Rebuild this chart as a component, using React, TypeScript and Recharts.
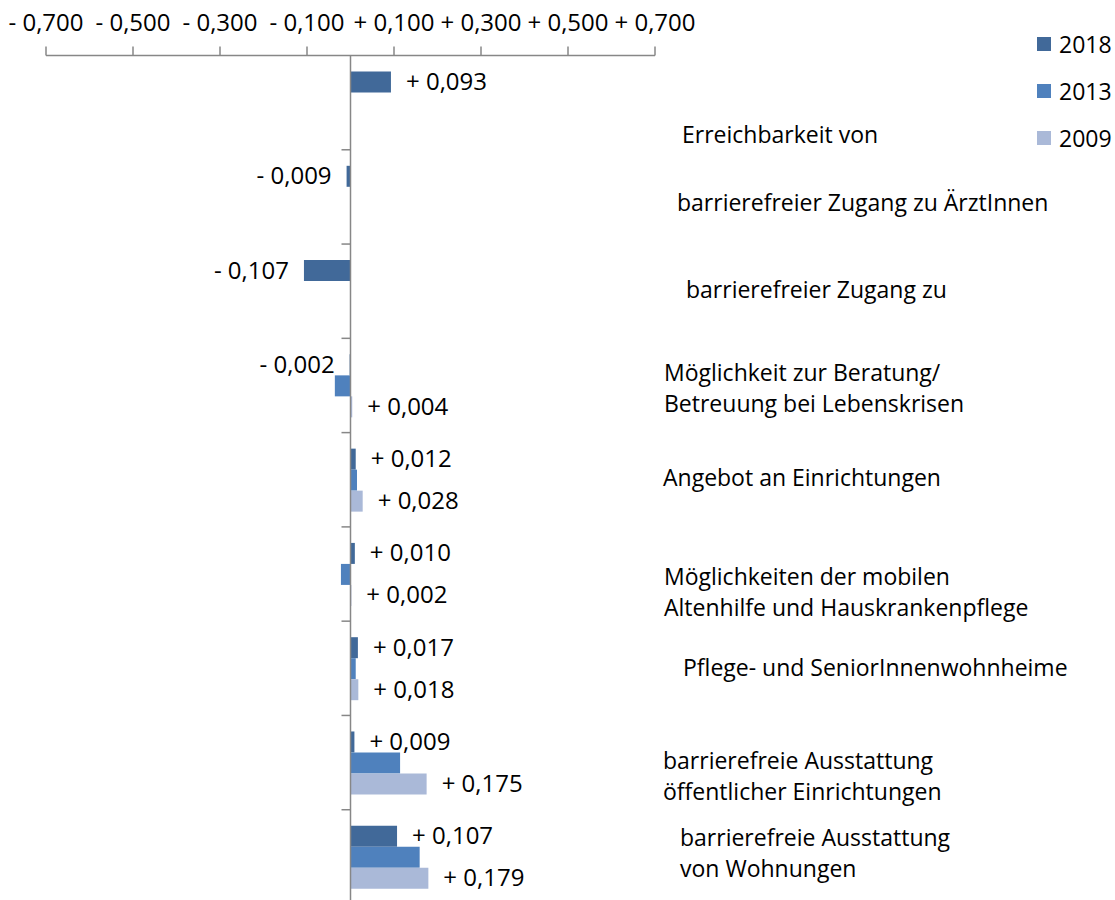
import React from 'react';
import {
  BarChart, Bar, XAxis, YAxis, ReferenceLine, LabelList
} from 'recharts';

// categories from top to bottom ("\n" = line break in the right-hand label)
const categories = [
  'Erreichbarkeit von',
  'barrierefreier Zugang zu ÄrztInnen',
  'barrierefreier Zugang zu',
  'Möglichkeit zur Beratung/\nBetreuung bei Lebenskrisen',
  'Angebot an Einrichtungen',
  'Möglichkeiten der mobilen\nAltenhilfe und Hauskrankenpflege',
  'Pflege- und SeniorInnenwohnheime',
  'barrierefreie Ausstattung\nöffentlicher Einrichtungen',
  'barrierefreie Ausstattung\nvon Wohnungen',
];

const values2018 = [0.093, -0.009, -0.107, -0.002, 0.012, 0.010, 0.017, 0.009, 0.107];
const values2013 = [null, null, null, -0.036, 0.015, -0.022, 0.012, 0.114, 0.159];
const values2009 = [null, null, null, 0.004, 0.028, 0.002, 0.018, 0.175, 0.179];

const xTicks = [-0.7, -0.5, -0.3, -0.1, 0.1, 0.3, 0.5, 0.7];

const series = [
  { key: 'y2018', name: '2018', color: '#416999', labels: true },
  { key: 'y2013', name: '2013', color: '#4F81BD', labels: false },
  { key: 'y2009', name: '2009', color: '#AAB9D8', labels: true },
];

// where each category label sits, relative to the band centre (dx, dy of first baseline)
const labelOffsets = [
  [27, 40], [22, 14], [31, 7], [9, -4], [8, 6], [9, 11], [28, 8], [8, 6], [25, -11],
];

const FONT = "'Open Sans', sans-serif";
const AXIS_GREY = '#878787';

const data = categories.map((name, i) => ({
  name,
  y2018: values2018[i],
  y2013: values2013[i],
  y2009: values2009[i],
}));

const fmt = (v: number) => {
  const sign = v < 0 ? '- ' : '+ ';
  return sign + Math.abs(v).toFixed(3).replace('.', ',');
};

const CategoryTick = (props: any) => {
  const { x, y, payload } = props;
  const idx = categories.indexOf(payload.value);
  const [dx, dy] = labelOffsets[idx] ?? [0, 0];
  const lines = String(payload.value).split('\n');
  return (
    <text x={x + dx} y={y + dy} fontSize={23} fontFamily={FONT} fill="#000" textAnchor="start">
      {lines.map((line, i) => (
        <tspan key={i} x={x + dx} dy={i === 0 ? 0 : 31}>{line}</tspan>
      ))}
    </text>
  );
};

// zero line with the small category tick marks between the bands
const ZeroLine = (props: any) => {
  const { x1, y1, y2 } = props;
  const top = Math.min(y1, y2);
  const bottom = Math.max(y1, y2);
  const step = (bottom - top) / categories.length;
  return (
    <g>
      <line x1={x1} y1={top} x2={x1} y2={bottom} stroke={AXIS_GREY} strokeWidth={1.5} />
      {categories.map((_, i) => (
        <line key={i} x1={x1 - 9} x2={x1} y1={top + (i + 1) * step} y2={top + (i + 1) * step}
          stroke={AXIS_GREY} strokeWidth={1.5} />
      ))}
    </g>
  );
};

const ValueLabel = (props: any) => {
  const { value } = props;
  if (value === null || value === undefined) return null;
  const vb = props.viewBox ?? props;
  const { x, y, width, height } = vb;
  const left = Math.min(x, x + width);
  const right = Math.max(x, x + width);
  const neg = value < 0;
  return (
    <text x={neg ? left - 15 : right + 15} y={y + height / 2 + 8}
      textAnchor={neg ? 'end' : 'start'} fontSize={24} fontFamily={FONT} fill="#000">
      {fmt(value)}
    </text>
  );
};

const App: React.FC = () => {
  return (
    <div style={{ position: 'fixed', left: 0, top: 0, width: 1115, height: 900, overflow: 'hidden', background: '#fff' }}>
      <BarChart
        width={1115}
        height={905}
        data={data}
        layout="vertical"
        margin={{ top: 0, right: 0, left: 46, bottom: 1 }}
        barCategoryGap="17%"
        barGap={0}
      >
        <XAxis
          type="number"
          orientation="top"
          domain={[-0.7, 0.7]}
          ticks={xTicks}
          tickFormatter={fmt}
          height={55.5}
          tick={{ fontSize: 24, fill: '#000', fontFamily: FONT }}
          axisLine={{ stroke: AXIS_GREY, strokeWidth: 1.5 }}
          tickLine={{ stroke: AXIS_GREY, strokeWidth: 1.5 }}
          tickSize={9}
          tickMargin={16}
          allowDataOverflow
        />
        <YAxis
          type="category"
          dataKey="name"
          orientation="right"
          width={460}
          axisLine={false}
          tickLine={false}
          tickSize={0}
          tickMargin={0}
          interval={0}
          tick={<CategoryTick />}
        />
        {series.map(s => (
          <Bar key={s.key} dataKey={s.key} name={s.name} fill={s.color} isAnimationActive={false}>
            {s.labels && <LabelList dataKey={s.key} content={<ValueLabel />} />}
          </Bar>
        ))}
        <ReferenceLine x={0} shape={<ZeroLine />} />
      </BarChart>

      <div style={{ position: 'absolute', left: 1037, top: 20, fontFamily: FONT, fontSize: 23, color: '#000' }}>
        {series.map(s => (
          <div key={s.key} style={{ display: 'flex', alignItems: 'center', height: 47 }}>
            <span style={{ width: 14, height: 14, background: s.color, display: 'inline-block', marginRight: 8 }} />
            <span>{s.name}</span>
          </div>
        ))}
      </div>
    </div>
  );
};

export default App;
